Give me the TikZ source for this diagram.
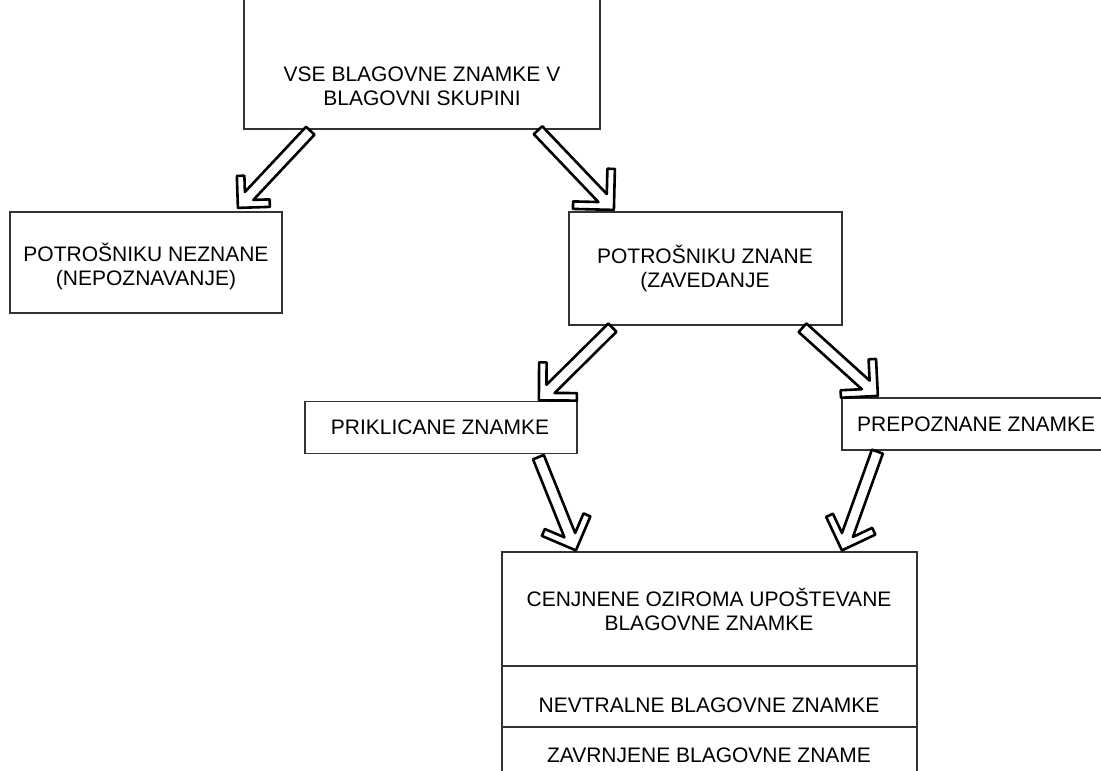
\documentclass[tikz,border=0pt]{standalone}
\usepackage{fontspec}
\setmainfont{Liberation Sans}
\usetikzlibrary{calc}
\tikzset{
  box/.style={draw=black!80, line width=1.2pt, inner sep=0pt},
  txt/.style={font=\fontsize{21}{24}\selectfont, align=center, inner sep=0pt},
  barrowstyle/.style={draw=black, fill=white, line width=2.6pt, line join=round},
}
\def\bt{7.5}\def\bw{5.8}
\newcommand\barrow[3]{%
  \draw[barrowstyle] let \p1=(#1), \p2=(#2),
    \n1={atan2(\y1-\y2,\x1-\x2)},
    \n2={veclen(\x1-\x2,\y1-\y2)}
  in (\p2)
   -- +({\n1+45}:{#3*1pt})
   -- +({\n1+atan2(#3-\bt,#3+\bt)}:{sqrt(#3*#3+\bt*\bt)*1pt})
   -- +({\n1+atan2(\bw,1.4142*\bt+\bw)}:{veclen(1.4142*\bt+\bw,\bw)*1pt})
   -- +({\n1+atan2(\bw,\n2)}:{veclen(\n2,\bw)*1pt})
   -- +({\n1-atan2(\bw,\n2)}:{veclen(\n2,\bw)*1pt})
   -- +({\n1-atan2(\bw,1.4142*\bt+\bw)}:{veclen(1.4142*\bt+\bw,\bw)*1pt})
   -- +({\n1-atan2(#3-\bt,#3+\bt)}:{sqrt(#3*#3+\bt*\bt)*1pt})
   -- +({\n1-45}:{#3*1pt})
   -- cycle;}
\begin{document}
\begin{tikzpicture}[x=1pt,y=-1pt]
\useasboundingbox (0,0) rectangle (1101,771);
\fill[white] (0,0) rectangle (1101,771);
% boxes
\node[box, minimum width=356pt, minimum height=139pt] (top) at (422,59.5) {};
\node[txt] (toptext) at (422,86) {VSE BLAGOVNE ZNAMKE V\\BLAGOVNI SKUPINI};
\node[box, minimum width=272pt, minimum height=101pt] (lft) at (146,262.5) {};
\node[txt] (lfttext) at (146,266) {POTROŠNIKU NEZNANE\\(NEPOZNAVANJE)};
\node[box, minimum width=273pt, minimum height=113pt] (mid) at (705.5,268.5) {};
\node[txt] (midtext) at (705,268) {POTROŠNIKU ZNANE\\(ZAVEDANJE};
\node[box, minimum width=272pt, minimum height=52pt] (prik) at (441,427.5) {};
\node[txt] (priktext) at (440,427) {PRIKLICANE ZNAMKE};
\node[box, minimum width=278pt, minimum height=52pt] (prep) at (981,424) {};
\node[txt, anchor=west] (preptext) at (857,424) {PREPOZNANE ZNAMKE};
\node[box, minimum width=415pt, minimum height=114pt] (sec1) at (709.5,609) {};
\node[box, minimum width=415pt, minimum height=61pt] (sec2) at (709.5,696.5) {};
\node[box, minimum width=415pt, minimum height=83pt] (sec3) at (709.5,768.5) {};
\node[txt] (s1text) at (709,609) {CENJNENE OZIROMA UPOŠTEVANE\\BLAGOVNE ZNAMKE};
\node[txt] (s2text) at (709,705) {NEVTRALNE BLAGOVNE ZNAMKE};
\node[txt] (s3text) at (709,755) {ZAVRNJENE BLAGOVNE ZNAME};
% arrow end points
\coordinate (a1s) at ($(top.south west)+(67,1)$);
\coordinate (a1e) at ($(lft.north west)+(228.5,-3.5)$);
\coordinate (a2s) at ($(top.south west)+(294.5,0.5)$);
\coordinate (a2e) at ($(mid.north west)+(45.5,-1.5)$);
\coordinate (a3s) at ($(mid.south west)+(44,2)$);
\coordinate (a3e) at ($(prik.north west)+(234.5,-0.5)$);
\coordinate (a4s) at ($(mid.south west)+(234,2)$);
\coordinate (a4e) at ($(prep.north west)+(36.5,-1.5)$);
\coordinate (a5s) at ($(prik.south west)+(234,3)$);
\coordinate (a5e) at ($(sec1.north west)+(74.5,-1)$);
\coordinate (a6s) at ($(prep.south west)+(36,1)$);
\coordinate (a6e) at ($(sec1.north west)+(340.5,-1)$);
\barrow{a1s}{a1e}{32}
\barrow{a2s}{a2e}{41}
\barrow{a3s}{a3e}{38}
\barrow{a4s}{a4e}{37}
\barrow{a5s}{a5e}{37}
\barrow{a6s}{a6e}{37}
\end{tikzpicture}
\end{document}
